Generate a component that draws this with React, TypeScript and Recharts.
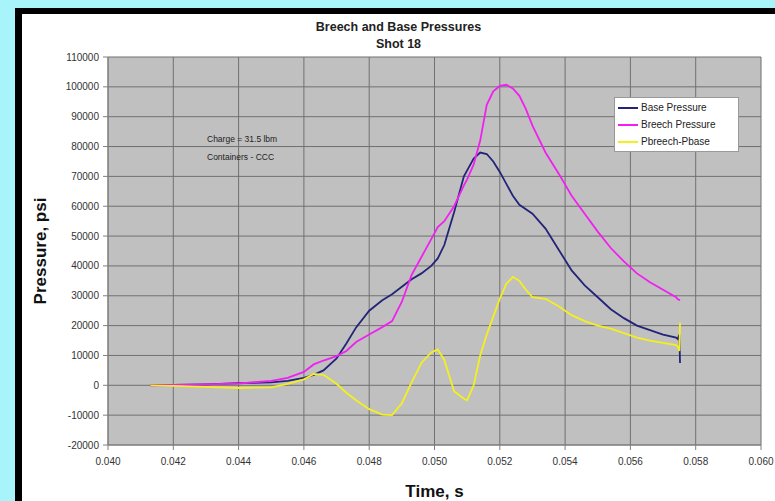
import React from 'react';
import {
  LineChart, Line, XAxis, YAxis, CartesianGrid,
} from 'recharts';

// time in seconds, pressures in psi
const time = [
  0.0413, 0.042, 0.043, 0.044, 0.045, 0.0455, 0.046, 0.0463, 0.0466, 0.047,
  0.0473, 0.0476, 0.048, 0.0484, 0.0487, 0.049, 0.0493, 0.0496, 0.0499, 0.0501,
  0.0503, 0.0506, 0.0509, 0.051, 0.0512, 0.0514, 0.0516, 0.0518, 0.052, 0.0522,
  0.0524, 0.0526, 0.0528, 0.053, 0.0534, 0.0538, 0.0542, 0.0546, 0.055, 0.0554,
  0.0558, 0.0562, 0.0566, 0.057, 0.0574, 0.05745, 0.0575, 0.05752,
];
const basePressure = [
  0, 100, 300, 700, 1000, 1500, 2500, 3500, 5000, 9000,
  14000, 19400, 25000, 28500, 30500, 33000, 35500, 37500, 40000, 42500,
  47000, 58000, 70000, 72000, 76000, 78000, 77500, 75000, 71500, 67500,
  63500, 60500, 59000, 57500, 52500, 45500, 38500, 33500, 29500, 25500,
  22500, 20000, 18500, 17000, 16000, 15500, 17000, 7500,
];
const breechPressure = [
  0, 100, 300, 600, 1500, 2500, 4500, 7000, 8300, 9800,
  11500, 14500, 17000, 19500, 21500, 28000, 37000, 43000, 49000, 53000,
  55000, 60000, 67000, 69000, 74000, 82000, 94000, 98500, 100300, 100700,
  99500, 97000, 92500, 87000, 78000, 71000, 63500, 57500, 51500, 46000,
  41500, 37500, 34500, 32000, 29500, 28800, 28600, 28500,
];
const pDiff = [
  0, -200, -500, -900, -700, 500, 2000, 3800, 3500, 500,
  -2500, -5000, -8000, -9800, -10000, -6000, 1000, 7500, 11000, 12000,
  8500, -2000, -4500, -5000, 0, 10000, 17000, 23000, 29000, 34000,
  36300, 35000, 32000, 29500, 29000, 26500, 23500, 21500, 20000, 19000,
  17500, 16000, 15000, 14200, 13500, 13000, 11500, 21000,
];

const xTicks = [0.04, 0.042, 0.044, 0.046, 0.048, 0.05, 0.052, 0.054, 0.056, 0.058, 0.06];
const yTicks = [-20000, -10000, 0, 10000, 20000, 30000, 40000, 50000, 60000, 70000, 80000, 90000, 100000, 110000];

const seriesInfo = [
  { key: 'base', name: 'Base Pressure', color: '#232378' },
  { key: 'breech', name: 'Breech Pressure', color: '#f020f0' },
  { key: 'diff', name: 'Pbreech-Pbase', color: '#f4f020' },
];

const data = time.map((t, i) => ({
  t,
  base: basePressure[i],
  breech: breechPressure[i],
  diff: pDiff[i],
}));

const font = '"Liberation Sans", Arial, sans-serif';

// legend drawn as a plain box so it takes no room from the plot
const LegendBox = () => (
  <div style={{
    position: 'absolute', left: 614, top: 97, width: 114,
    background: '#fff', border: '1px solid #999', padding: '1px 6px 1px 3px',
    fontFamily: font, fontSize: 10, color: '#222', lineHeight: '17px',
  }}>
    {seriesInfo.map((s) => (
      <div key={s.key} style={{ display: 'flex', alignItems: 'center' }}>
        <span style={{ width: 20, height: 2, background: s.color, marginRight: 3, display: 'inline-block' }} />
        <span>{s.name}</span>
      </div>
    ))}
  </div>
);

export default function App() {
  return (
    <div style={{ position: 'absolute', left: 0, top: 0, width: 775, height: 501, background: '#a8f4fb', overflow: 'hidden' }}>
      <div style={{ position: 'absolute', left: 15, top: 8, width: 780, height: 500, background: '#000' }} />
      <div style={{ position: 'absolute', left: 22, top: 14, width: 780, height: 500, background: '#fff' }} />
      <div style={{
        position: 'absolute', left: 22, width: 753, top: 19, textAlign: 'center',
        fontFamily: font, fontWeight: 'bold', fontSize: 12.5, color: '#222', lineHeight: '17px',
      }}>
        <div>Breech and Base Pressures</div>
        <div>Shot 18</div>
      </div>
      <div style={{ position: 'absolute', left: 0, top: 0 }}>
        <LineChart
          width={775}
          height={501}
          data={data}
          margin={{ top: 57, right: 14, left: 48, bottom: 26 }}
        >
          <CartesianGrid stroke="#707070" fill="#c0c0c0" strokeWidth={1} />
          <XAxis
            dataKey="t"
            type="number"
            domain={[0.04, 0.06]}
            ticks={xTicks}
            tickFormatter={(v: number) => v.toFixed(3)}
            tick={{ fill: '#333', fontSize: 10, fontFamily: font, dy: 6 }}
            axisLine={{ stroke: '#808080' }}
            tickLine={{ stroke: '#808080' }}
            tickSize={5}
            height={30}
            label={{ value: 'Time, s', position: 'insideBottom', offset: -22, fill: '#111', fontSize: 17, fontWeight: 'bold', fontFamily: font }}
          />
          <YAxis
            type="number"
            domain={[-20000, 110000]}
            ticks={yTicks}
            tick={{ fill: '#333', fontSize: 10, fontFamily: font, dx: -2 }}
            axisLine={{ stroke: '#808080' }}
            tickLine={{ stroke: '#808080' }}
            tickSize={5}
            width={60}
            label={{ value: 'Pressure, psi', angle: -90, position: 'insideLeft', offset: -8, fill: '#111', fontSize: 17, fontWeight: 'bold', fontFamily: font, style: { textAnchor: 'middle' } }}
          />
          {seriesInfo.map((s) => (
            <Line
              key={s.key}
              type="linear"
              dataKey={s.key}
              name={s.name}
              stroke={s.color}
              strokeWidth={1.8}
              dot={false}
              isAnimationActive={false}
            />
          ))}
        </LineChart>
      </div>
      <LegendBox />
      <div style={{
        position: 'absolute', left: 207, top: 130, fontFamily: font, fontSize: 8.5,
        color: '#222', lineHeight: '18px',
      }}>
        <div>Charge = 31.5 lbm</div>
        <div>Containers - CCC</div>
      </div>
    </div>
  );
}
